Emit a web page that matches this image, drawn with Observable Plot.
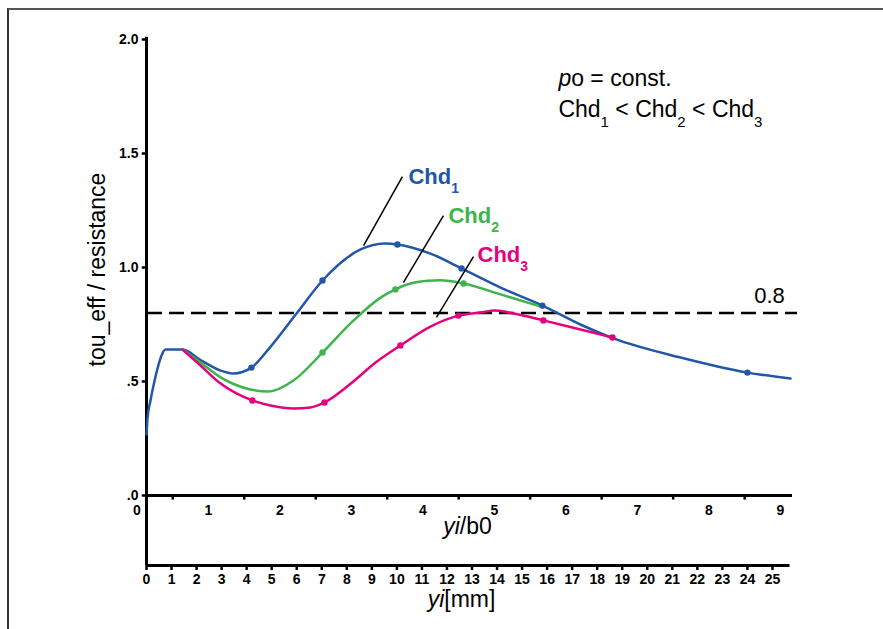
<!DOCTYPE html>
<html><head><meta charset="utf-8">
<script src="https://cdn.jsdelivr.net/npm/d3@7"></script>
<script src="https://cdn.jsdelivr.net/npm/@observablehq/plot@0.6"></script>
<style>
body{margin:0;background:#fff;}
#wrap{position:relative;width:883px;height:629px;overflow:hidden;background:#fff;}
#border{position:absolute;left:7px;top:8px;right:-10px;bottom:-10px;border-left:2px solid #333;border-top:2.5px solid #555;pointer-events:none;}
</style></head><body><div id="wrap"><div id="border"></div></div>
<script>
// ---- data (x in mm, y = tou_eff / resistance) ----
const blueX = [0,0.04,0.16,0.28,0.44,0.60,0.76,1.44,2.16,2.96,3.47,4.19,4.95,5.99,7.03,8.55,9.54,10.02,11.34,12.58,14.14,15.81,17.33,18.65,21.33,24.00,25.72];
const blueY = [0.268,0.338,0.417,0.482,0.557,0.614,0.640,0.640,0.594,0.548,0.535,0.561,0.652,0.798,0.943,1.079,1.105,1.101,1.061,0.996,0.912,0.833,0.750,0.689,0.605,0.539,0.513];
const greenX = [1.44,2.16,2.96,4.15,4.87,5.87,7.03,8.27,9.35,9.94,10.26,11.22,11.74,12.66,14.14,15.85];
const greenY = [0.640,0.583,0.518,0.465,0.456,0.504,0.627,0.768,0.868,0.904,0.920,0.942,0.944,0.930,0.882,0.825];
const pinkX = [1.44,2.16,2.96,4.23,4.95,5.87,6.55,7.11,8.15,9.15,10.14,11.34,12.46,13.34,13.94,14.66,15.85,17.33,18.61];
const pinkY = [0.640,0.570,0.491,0.417,0.395,0.382,0.386,0.408,0.490,0.583,0.658,0.741,0.789,0.803,0.811,0.798,0.768,0.728,0.693];

const blueDotX = [4.19,7.03,10.02,12.58,15.81,24.00];
const blueDotY = [0.561,0.943,1.101,0.996,0.833,0.539];
const greenDotX = [7.03,9.94,12.66];
const greenDotY = [0.627,0.904,0.930];
const pinkDotX = [4.23,7.11,10.14,12.46,15.85,18.61];
const pinkDotY = [0.417,0.408,0.658,0.789,0.768,0.693];

const threshold = 0.8;
const thresholdLabel = "0.8";

// axes
const yTicks = [0, 0.5, 1, 1.5, 2];
const yTickLabels = [".0", ".5", "1.0", "1.5", "2.0"];
const mmTicks = d3.range(0, 26);
const b0Labels = [0,1,2,3,4,5,6,7,8,9];
const b0MinorTicks = [0.5,1.5,2.5,3.5,4.5,5.5,6.5,7.5,8.5];
const B0_ORIGIN_MM = -0.379, MM_PER_B0 = 2.855; // placement of the yi/b0 axis against the mm axis
const b0ToMm = b => B0_ORIGIN_MM + b * MM_PER_B0;

// annotations
const seriesNames = ["Chd_{1}", "Chd_{2}", "Chd_{3}"];
const seriesColors = ["#2356a6", "#3db54a", "#e6007e"];
const nameX = [10.46, 12.06, 13.22];
const nameY = [1.368, 1.197, 1.022];
const leaderX1 = [8.67, 10.26, 11.58], leaderY1 = [1.096, 0.934, 0.781];
const leaderX2 = [10.22, 11.86, 13.06], leaderY2 = [1.399, 1.228, 1.048];
const legendLines = ["*p*o = const.", "Chd_{1} < Chd_{2} < Chd_{3}"];
const legendY = [1.798, 1.658];
const yTitle = "tou_eff / resistance";
const xTitleTop = "*yi*/b0";
const xTitleBottom = "*yi*[mm]";

const pts = (xs, ys) => xs.map((x, i) => ({x, y: ys[i]}));
const series = [pts(blueX, blueY), pts(greenX, greenY), pts(pinkX, pinkY)];
const dots = [pts(blueDotX, blueDotY), pts(greenDotX, greenDotY), pts(pinkDotX, pinkDotY)];
const names = seriesNames.map((t, i) => ({t, x: nameX[i], y: nameY[i], c: seriesColors[i]}));
const leaders = leaderX1.map((x1, i) => ({x1, y1: leaderY1[i], x2: leaderX2[i], y2: leaderY2[i]}));
const YMIN = -0.307;

const chart = Plot.plot({
  width: 883, height: 629,
  marginLeft: 146, marginRight: 93.5, marginTop: 39, marginBottom: 64,
  x: {domain: [0, 25.7], axis: null},
  y: {domain: [YMIN, 2.0], axis: null},
  style: "font-family: 'Liberation Sans', Arial, Helvetica, sans-serif; background: transparent; overflow: visible; color: black;",
  marks: [
    // axis lines
    Plot.ruleX([0], {y1: YMIN, y2: 2.01, strokeWidth: 3}),
    Plot.ruleY([0], {x1: 0, x2: 25.8, strokeWidth: 3}),
    Plot.ruleY([YMIN], {x1: 0, x2: 25.7, strokeWidth: 3}),
    // y axis ticks + labels
    Plot.ruleY(yTicks, {y: d => d, x1: -0.17, x2: 0, strokeWidth: 2.5}),
    Plot.text(yTicks, {x: 0, y: d => d, dx: -8, text: d => yTickLabels[yTicks.indexOf(d)], textAnchor: "end", fontSize: 14, fontWeight: "bold"}),
    // bottom mm axis ticks + labels
    Plot.ruleX(mmTicks, {x: d => d, y1: YMIN, y2: YMIN - 0.022, strokeWidth: 2.5}),
    Plot.text(mmTicks, {x: d => d, y: YMIN, dy: 14, text: d => String(d), fontSize: 14, fontWeight: "bold"}),
    // top yi/b0 axis ticks + labels
    Plot.ruleX(b0MinorTicks, {x: b0ToMm, y1: 0, y2: -0.02, strokeWidth: 2.5}),
    Plot.text(b0Labels, {x: b0ToMm, y: 0, dy: 15, text: d => String(d), fontSize: 14, fontWeight: "bold"}),
    // threshold
    Plot.ruleY([threshold], {x1: 0.04, x2: 26.0, strokeDasharray: "15,7", strokeWidth: 2.5}),
    Plot.text([thresholdLabel], {x: 24.88, y: threshold, dy: -10, text: d => d, fontSize: 22, lineAnchor: "bottom"}),
    // series
    ...series.map((s, i) => Plot.line(s, {x: "x", y: "y", stroke: seriesColors[i], strokeWidth: 2.5, curve: "monotone-x"})),
    ...dots.map((s, i) => Plot.dot(s, {x: "x", y: "y", fill: seriesColors[i], r: 3.2})),
    // annotations
    Plot.link(leaders, {x1: "x1", y1: "y1", x2: "x2", y2: "y2", stroke: "black", strokeWidth: 1.5}),
    Plot.text(names, {x: "x", y: "y", text: "t", fill: "c", fontSize: 22, fontWeight: "bold", textAnchor: "start", lineAnchor: "bottom"}),
    Plot.text(legendLines, {x: 16.45, y: (d, i) => legendY[i], text: d => d, fontSize: 23, textAnchor: "start", lineAnchor: "bottom"}),
    Plot.text([xTitleTop], {x: 12.82, y: -0.171, text: d => d, fontSize: 23, lineAnchor: "bottom"}),
    Plot.text([xTitleBottom], {x: 12.58, y: -0.487, text: d => d, fontSize: 23, lineAnchor: "bottom"}),
    Plot.text([yTitle], {x: -1.957, y: 0.991, text: d => d, fontSize: 23, rotate: -90})
  ]
});

// rich text: *italic* and _{subscript}
function richify(svg) {
  const NS = "http://www.w3.org/2000/svg";
  svg.querySelectorAll("text").forEach(t => {
    const s = t.textContent;
    if (!/\*|_\{/.test(s)) return;
    const holder = t.closest("[font-size]");
    const fs = holder ? parseFloat(holder.getAttribute("font-size")) : 20;
    const subSize = Math.round(fs * 0.64), subDy = Math.round(fs * 0.43);
    t.textContent = "";
    const re = /\*([^*]+)\*|_\{([^}]+)\}|([^*_]+|_)/g;
    let m, pending = 0;
    while ((m = re.exec(s))) {
      const sp = document.createElementNS(NS, "tspan");
      if (m[2] !== undefined) {
        sp.textContent = m[2];
        sp.setAttribute("font-size", subSize);
        sp.setAttribute("dy", subDy - pending);
        pending = subDy;
      } else {
        sp.textContent = m[1] !== undefined ? m[1] : m[3];
        if (m[1] !== undefined) sp.setAttribute("font-style", "italic");
        if (pending) { sp.setAttribute("dy", -pending); pending = 0; }
      }
      t.appendChild(sp);
    }
  });
}
richify(chart);
document.getElementById("wrap").appendChild(chart);
</script>
</body></html>
